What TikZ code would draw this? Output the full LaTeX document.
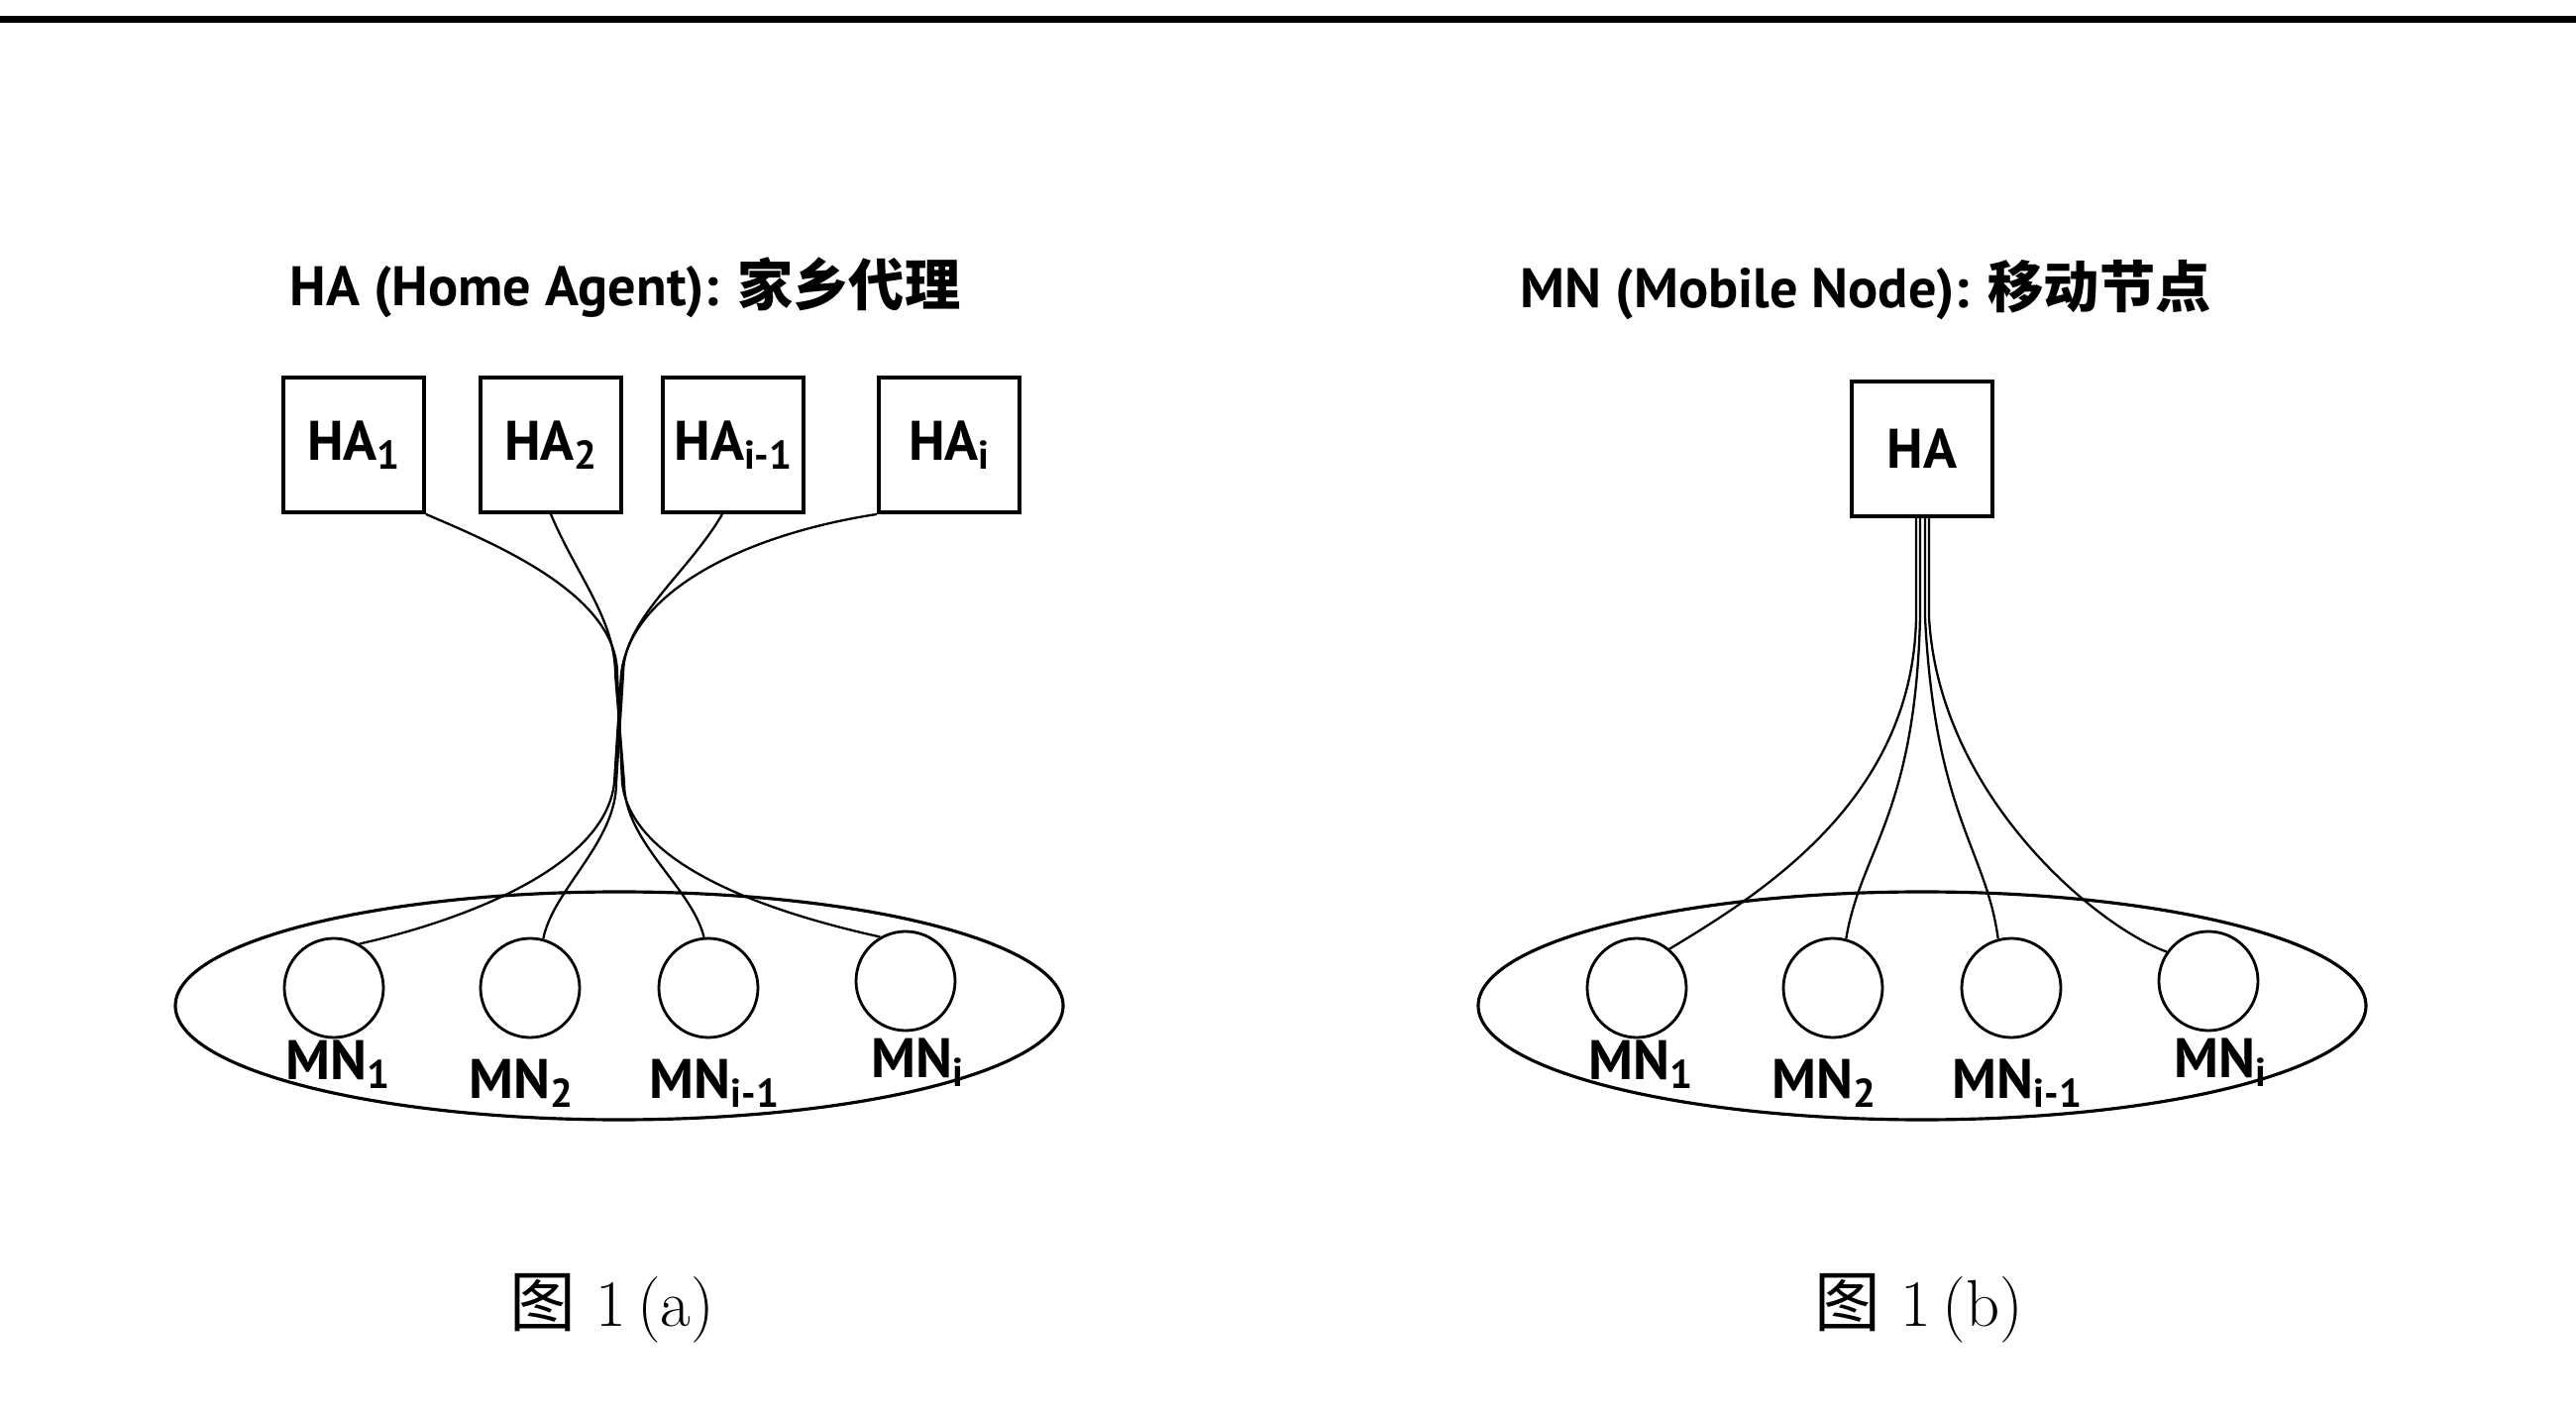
\documentclass[tikz,border=0pt]{standalone}
\usepackage{fontspec}
\usepackage{graphicx}
\newfontfamily\handfont{PT Sans}
\newfontfamily\cjk{Noto Sans CJK SC}
\newcommand\idx[1]{\raisebox{-0.3ex}{\scalebox{0.72}{#1}}}
\tikzset{
    habox/.style={draw, line width=1.1pt, minimum width=14.2mm, minimum height=13.6mm,
        font=\handfont\bfseries\fontsize{16}{18}\selectfont},
    mn/.style={draw, circle, line width=0.8pt, minimum size=10mm, inner sep=0pt},
    mnlabel/.style={inner sep=0pt, font=\handfont\bfseries\fontsize{16}{18}\selectfont},
    group/.style={line width=0.9pt},
    link/.style={line width=0.65pt},
    title/.style={inner sep=0pt, font=\handfont\bfseries\fontsize{16}{18}\selectfont},
    caption/.style={inner sep=0pt, font=\fontsize{19}{22}\selectfont},
}
\newcommand\MNGroup[3]{%
    \begin{scope}[shift={(#2,#3)}]
        \draw[group] (0,0) ellipse [x radius=44.8mm, y radius=11.5mm];
        \node[mn] (#11) at (-288,-18) {};
        \node[mn] (#12) at (-90,-18) {};
        \node[mn] (#13) at (90,-18) {};
        \node[mn] (#14) at (289,-25) {};
        \node[mnlabel] (#1l1) at (-284,59) {MN\idx{1}};
        \node[mnlabel] (#1l2) at (-99,78) {MN\idx{2}};
        \node[mnlabel] (#1l3) at (96,78) {MN\idx{i-1}};
        \node[mnlabel] (#1l4) at (301,57) {MN\idx{i}};
    \end{scope}
}

\begin{document}
\begin{tikzpicture}[x=0.1mm, y=-0.1mm]
    \useasboundingbox (0,0) rectangle (2600,1431);
    \draw[line width=0.7mm] (0,20) -- (2600,20);
    \begin{scope} % a
        \node[title] (titlea) at (631,290) {HA (Home Agent): {\cjk 家乡代理}};
        \node[habox] (ha1) at (357,449) {HA\idx{1}};
        \node[habox] (ha2) at (556,449) {HA\idx{2}};
        \node[habox] (ha3) at (740,449) {HA\idx{i-1}};
        \node[habox] (ha4) at (958,449) {HA\idx{i}};
        \MNGroup{mna}{625}{1015}
        \coordinate (wta) at (625,680);
        \coordinate (wba) at (625,790);
        \draw[link] (ha1.south east) .. controls +(70,30) and +(0,-80) .. ([xshift=-0.2mm]wta)
            -- ([xshift=0.3mm]wba) .. controls +(10,90) and +(-90,-20) .. (mna4.120);
        \draw[link] (ha2.south) .. controls +(25,60) and +(0,-55) .. ([xshift=-0.4mm]wta)
            -- ([xshift=0.5mm]wba) .. controls +(0,60) and +(-12,-50) .. (mna3.95);
        \draw[link] ([xshift=-1.1mm]ha3.south) .. controls +(-35,60) and +(0,-55) .. ([xshift=0.4mm]wta)
            -- ([xshift=-0.3mm]wba) .. controls +(0,60) and +(10,-50) .. (mna2.75);
        \draw[link] (ha4.south west) .. controls +(-130,20) and +(10,-85) .. ([xshift=0.2mm]wta)
            -- ([xshift=-0.5mm]wba) .. controls +(-10,90) and +(90,-20) .. (mna1.60);
        \node[caption] (capa) at (618,1320) {{\cjk 图} 1\,(a)};
    \end{scope}
    \begin{scope} % b
        \node[title] (titleb) at (1883,293) {MN (Mobile Node): {\cjk 移动节点}};
        \node[habox] (hab) at (1940,453) {HA};
        \MNGroup{mnb}{1940}{1015}
        \draw[link] ([xshift=-0.6mm]hab.south) -- ++(0,100) .. controls +(-3,180) and +(100,-60) .. (mnb1.50);
        \draw[link] ([xshift=-0.2mm]hab.south) -- ++(0,100) .. controls +(-5,200) and +(15,-90) .. (mnb2.75);
        \draw[link] ([xshift=0.3mm]hab.south) -- ++(0,100) .. controls +(10,200) and +(-12,-90) .. (mnb3.105);
        \draw[link] ([xshift=0.7mm]hab.south) -- ++(0,100) .. controls +(10,180) and +(-70,-25) .. (mnb4.145);
        \node[caption] (capb) at (1937,1320) {{\cjk 图} 1\,(b)};
    \end{scope}
\end{tikzpicture}
\end{document}
